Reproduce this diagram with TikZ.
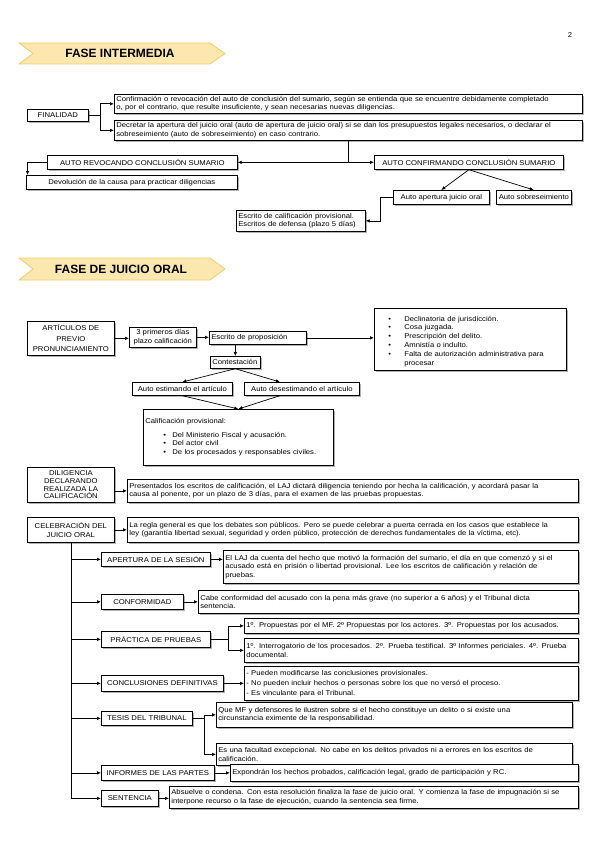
\documentclass[tikz,border=0pt]{standalone}
\usepackage{fontspec}
\setmainfont{Liberation Sans}[FakeStretch=1.1]
\newfontfamily\bandafont{Liberation Sans}
\usetikzlibrary{arrows.meta,shadows}

\definecolor{bandafondo}{HTML}{FCE7AE}
\definecolor{bandaborde}{HTML}{EFCB72}

% bullet line: indent, bullet box, text width, text
\newcommand{\punto}[4]{\par\noindent\hspace*{#1}\makebox[#2][l]{\textbullet}\parbox[t]{#3}{#4}\par}

\tikzset{
  caja/.style={draw, fill=white, line width=0.7pt, anchor=north west,
    inner xsep=2pt, inner ysep=1pt, align=left,
    font=\fontsize{7}{8.5}\selectfont,
    drop shadow={shadow xshift=1.3pt, shadow yshift=-1.3pt, fill=black!60}},
  rotulo/.style={caja, align=center},
  flecha/.style={-{Latex[length=4pt,width=3.5pt]}, line width=0.7pt},
  banda/.style={fill=bandafondo, draw=bandaborde, line width=0.8pt},
  titulo/.style={font=\bandafont\bfseries\fontsize{12}{14}\selectfont},
}

\begin{document}
\begin{tikzpicture}[x=1pt, y=-1pt]
  \useasboundingbox (0,0) rectangle (599,848);

  % Page number
  \node[font=\fontsize{7}{8}\selectfont] (pagina) at (570,35) {2};

  % Banner 1
  \draw[banda] (19,43) -- (210,43) -- (225,53.5) -- (210,64) -- (19,64) -- (33,53.5) -- cycle;
  \node[titulo] (fase1) at (120,53.5) {FASE INTERMEDIA};

  % Finalidad
  \node[rotulo, minimum width=61pt, minimum height=12pt] (fin) at (27,109) {FINALIDAD};
  \node[caja, text width=464pt, minimum height=19pt] (conf) at (114,94)
    {Confirmación o revocación del auto de conclusión del sumario, según se entienda que se encuentre debidamente completado\\
     o, por el contrario, que resulte insuficiente, y sean necesarias nuevas diligencias.};
  \node[caja, text width=464pt, minimum height=20pt] (decr) at (114,120)
    {Decretar la apertura del juicio oral (auto de apertura de juicio oral) si se dan los presupuestos legales necesarios, o declarar el\\
     sobreseimiento (auto de sobreseimiento) en caso contrario.};
  \draw[flecha] (fin.east) -- ++(12,0) |- (conf.west);
  \draw[flecha] (fin.east) -- ++(12,0) |- (decr.west);

  % Autos
  \node[rotulo, minimum width=190pt, minimum height=14pt] (revoca) at (47,155) {AUTO REVOCANDO CONCLUSIÓN SUMARIO};
  \node[rotulo, minimum width=189pt, minimum height=14pt] (confirma) at (374,155) {AUTO CONFIRMANDO CONCLUSIÓN SUMARIO};
  \node[rotulo, minimum width=211pt, minimum height=14pt] (devol) at (26,175) {Devolución de la causa para practicar diligencias};
  \node[rotulo, minimum width=96pt, minimum height=14pt] (autoap) at (393,190) {Auto apertura juicio oral};
  \node[rotulo, minimum width=75pt, minimum height=14pt] (sobres) at (496,190) {Auto sobreseimiento};
  \node[caja, text width=125pt, minimum height=21pt] (escrito) at (236,210)
    {Escrito de calificación provisional.\\Escritos de defensa (plazo 5 días)};

  \coordinate (bifurca) at (348,0);
  \draw[flecha] (decr.south -| bifurca) |- (revoca.east);
  \draw[flecha] (decr.south -| bifurca) |- (confirma.west);
  \draw[flecha] (revoca.west) -| ([xshift=1.5pt]devol.north west);
  \draw[flecha] (confirma.south) -- (autoap.north);
  \draw[flecha] (confirma.south) -- (sobres.north);
  \draw[flecha] (autoap.west) -- ++(-13,0) |- (escrito.east);

  % Banner 2
  \draw[banda] (19,258) -- (210,258) -- (225,269) -- (210,280) -- (19,280) -- (33,269) -- cycle;
  \node[titulo] (fase2) at (121,269) {FASE DE JUICIO ORAL};

  % Articulos de previo pronunciamiento
  \node[rotulo, font=\fontsize{7}{10.5}\selectfont, minimum width=87pt, minimum height=34pt] (art) at (27,321)
    {ARTÍCULOS DE\\PREVIO\\PRONUNCIAMIENTO};
  \node[rotulo, minimum width=67pt, minimum height=20pt] (plazo) at (129,327) {3 primeros días\\plazo calificación};
  \node[caja, text width=93pt, minimum height=13pt] (propos) at (209,331) {Escrito de proposición};
  \node[caja, text width=188pt, minimum height=62pt, font=\fontsize{7}{8.8}\selectfont] (lista) at (374,308)
    {\punto{12pt}{16pt}{160pt}{Declinatoria de jurisdicción.}
     \punto{12pt}{16pt}{160pt}{Cosa juzgada.}
     \punto{12pt}{16pt}{160pt}{Prescripción del delito.}
     \punto{12pt}{16pt}{160pt}{Amnistía o indulto.}
     \punto{12pt}{16pt}{160pt}{Falta de autorización administrativa para\\procesar}};
  \node[caja, text width=46pt, minimum height=12pt] (contest) at (210,356) {Contestación};
  \node[rotulo, minimum width=100pt, minimum height=13pt] (estima) at (132,382) {Auto estimando el artículo};
  \node[rotulo, minimum width=115pt, minimum height=13pt] (desest) at (244,382) {Auto desestimando el artículo};
  \node[caja, text width=186pt, minimum height=56pt] (calif) at (143,409)
    {Calificación provisional:\par\vspace{5pt}
     \punto{18pt}{9pt}{159pt}{Del Ministerio Fiscal y acusación.}
     \punto{18pt}{9pt}{159pt}{Del actor civil}
     \punto{18pt}{9pt}{159pt}{De los procesados y responsables civiles.}};

  \draw[flecha] (art.east) -- (art.east -| plazo.west);
  \draw[flecha] (plazo.east) -- (plazo.east -| propos.west);
  \draw[flecha] (propos.east) -- (propos.east -| lista.west);
  \draw[flecha] (contest.north |- propos.south) -- (contest.north);
  \draw[flecha] (contest.south) -- (estima.north);
  \draw[flecha] (contest.south) -- ([xshift=-22pt]desest.north);
  \draw[flecha] (estima.south) -- (calif.north);
  \draw[flecha] ([xshift=-22pt]desest.south) -- (calif.north);

  % Diligencia
  \node[rotulo, font=\fontsize{7}{7.6}\selectfont, inner ysep=2.5pt, minimum width=87pt, minimum height=35pt] (dil) at (27,467)
    {DILIGENCIA\\DECLARANDO\\REALIZADA LA\\CALIFICACIÓN};
  \node[caja, text width=447pt, minimum height=23pt] (pres) at (127,479)
    {Presentados los escritos de calificación, el LAJ dictará diligencia teniendo por hecha la calificación, y acordará pasar la\\
     causa al ponente, por un plazo de 3 días, para el examen de las pruebas propuestas.};
  \draw[flecha] (dil.east |- pres.west) -- (pres.west);

  % Celebracion del juicio oral
  \node[rotulo, minimum width=87pt, minimum height=25pt] (cel) at (27,517) {CELEBRACIÓN DEL\\JUICIO ORAL};
  \node[caja, text width=447pt, minimum height=25pt] (regla) at (127,517)
    {La regla general es que los debates son públicos. Pero se puede celebrar a puerta cerrada en los casos que establece la\\
     ley (garantía libertad sexual, seguridad y orden público, protección de derechos fundamentales de la víctima, etc).};
  \draw[flecha] (cel.east) -- (cel.east -| regla.west);

  \node[rotulo, minimum width=109pt, minimum height=14pt] (apses) at (101,552) {APERTURA DE LA SESIÓN};
  \node[caja, text width=351pt, minimum height=33pt] (laj) at (223,550)
    {El LAJ da cuenta del hecho que motivó la formación del sumario, el día en que comenzó y si el\\
     acusado está en prisión o libertad provisional. Lee los escritos de calificación y relación de\\
     pruebas.};
  \node[rotulo, minimum width=82pt, minimum height=15pt] (conform) at (101,594) {CONFORMIDAD};
  \node[caja, text width=376pt, minimum height=23pt] (cabe) at (198,590)
    {Cabe conformidad del acusado con la pena más grave (no superior a 6 años) y el Tribunal dicta\\
     sentencia.};
  \node[rotulo, minimum width=109pt, minimum height=16pt] (prac) at (101,631) {PRÁCTICA DE PRUEBAS};
  \node[caja, text width=330pt, minimum height=15pt] (pr1) at (244,618)
    {1º. Propuestas por el MF. 2º Propuestas por los actores. 3º. Propuestas por los acusados.};
  \node[caja, text width=330pt, minimum height=24pt] (pr2) at (244,638)
    {1º. Interrogatorio de los procesados. 2º. Prueba testifical. 3º Informes periciales. 4º. Prueba\\
     documental.};
  \node[rotulo, minimum width=122pt, minimum height=16pt] (concl) at (101,675) {CONCLUSIONES DEFINITIVAS};
  \node[caja, text width=330pt, minimum height=34pt, font=\fontsize{7}{10}\selectfont] (clist) at (244,666)
    {- Pueden modificarse las conclusiones provisionales.\\
     - No pueden incluir hechos o personas sobre los que no versó el proceso.\\
     - Es vinculante para el Tribunal.};
  \node[rotulo, minimum width=91pt, minimum height=14pt] (tesis) at (101,711) {TESIS DEL TRIBUNAL};
  \node[caja, text width=352pt, minimum height=25pt] (te1) at (216,702)
    {Que MF y defensores le ilustren sobre si el hecho constituye un delito o si existe una\\
     circunstancia eximente de la responsabilidad.};
  \node[caja, text width=352pt, minimum height=22pt] (te2) at (216,743)
    {Es una facultad excepcional. No cabe en los delitos privados ni a errores en los escritos de\\
     calificación.};
  \node[rotulo, minimum width=113pt, minimum height=15pt] (inf) at (101,765) {INFORMES DE LAS PARTES};
  \node[caja, text width=344pt, minimum height=17pt] (expo) at (230,764)
    {Expondrán los hechos probados, calificación legal, grado de participación y RC.};
  \node[rotulo, minimum width=57pt, minimum height=16pt] (sent) at (101,790) {SENTENCIA};
  \node[caja, text width=405pt, minimum height=22pt] (absu) at (169,786)
    {Absuelve o condena. Con esta resolución finaliza la fase de juicio oral. Y comienza la fase de impugnación si se\\
     interpone recurso o la fase de ejecución, cuando la sentencia sea firme.};

  % Trunk and branches
  \draw[flecha] (cel.south) |- (apses.west);
  \draw[flecha] (cel.south) |- (conform.west);
  \draw[flecha] (cel.south) |- (prac.west);
  \draw[flecha] (cel.south) |- (concl.west);
  \draw[flecha] (cel.south) |- (tesis.west);
  \draw[flecha] (cel.south) |- (inf.west);
  \draw[flecha] (cel.south) |- (sent.west);

  \draw[flecha] (apses.east) -- (apses.east -| laj.west);
  \draw[flecha] (conform.east) -- (conform.east -| cabe.west);
  \draw[flecha] (prac.east) -- ++(18,0) |- (pr1.west);
  \draw[flecha] (prac.east) -- ++(18,0) |- (pr2.west);
  \draw[flecha] (concl.east) -- (concl.east -| clist.west);
  \draw[flecha] (tesis.east) -- ++(12,0) |- (te1.west);
  \draw[flecha] (tesis.east) -- ++(12,0) |- (te2.west);
  \draw[flecha] (inf.east) -- (inf.east -| expo.west);
  \draw[flecha] (sent.east) -- (sent.east -| absu.west);

\end{tikzpicture}
\end{document}
